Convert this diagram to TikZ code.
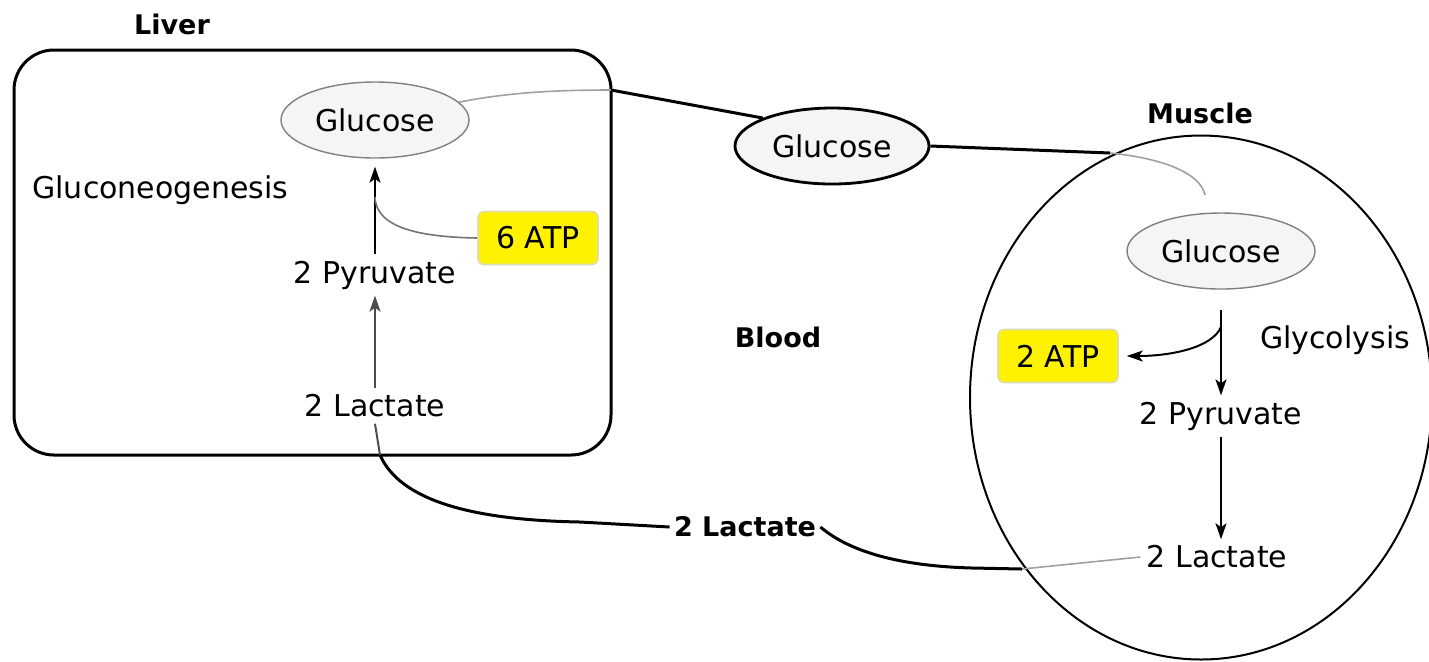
\documentclass[tikz,border=0pt]{standalone}
\usepackage{fontspec}
\setmainfont{DejaVu Sans}
\usetikzlibrary{shapes.geometric,arrows.meta}
\definecolor{glufill}{HTML}{F5F5F5}
\definecolor{glugray}{HTML}{808080}
\definecolor{thingray}{HTML}{A0A0A0}
\definecolor{atpborder}{HTML}{DDDDB0}
\begin{document}
\begin{tikzpicture}[x=0.5pt,y=-0.5pt,
  txt/.style={font=\fontsize{15}{18}\selectfont, inner sep=3pt},
  lbl/.style={font=\bfseries\fontsize{13.5}{16}\selectfont, inner sep=1pt},
  glu/.style={ellipse, draw=glugray, line width=0.7pt, fill=glufill,
    minimum width=94pt, minimum height=38pt, inner sep=0pt,
    font=\fontsize{15}{18}\selectfont},
  atp/.style={draw=atpborder, line width=0.8pt, fill=yellow, rounded corners=3pt,
    minimum width=60pt, minimum height=26.5pt, inner sep=0pt,
    font=\fontsize{15}{18}\selectfont},
  flow/.style={line width=1.5pt, black},
  graylink/.style={line width=0.8pt, thingray},
  arr/.style={line width=1pt, -{Stealth[length=8pt,width=5.5pt,inset=2pt]}}
]
\useasboundingbox (0,0) rectangle (1429,661);

% compartments
\node[draw, line width=1.5pt, rounded corners=20pt, minimum width=298.5pt,
  minimum height=202.5pt, inner sep=0pt] (liver) at (312.5,252.5) {};
\node[ellipse, draw, line width=1pt, minimum width=231pt, minimum height=262pt,
  inner sep=0pt] (muscle) at (1201,397.5) {};

% titles
\node[lbl] (tliver) at (172,24) {Liver};
\node[lbl] (tmuscle) at (1200,113) {Muscle};
\node[lbl] (tblood) at (778,337) {Blood};

% liver contents
\node[glu] (lglu) at (375,120) {Glucose};
\node[txt, anchor=west] (gneo) at (26,190) {Gluconeogenesis};
\node[txt] (lpyr) at (375,275) {2 Pyruvate};
\node[txt] (llac) at (375,406) {2 Lactate};
\node[atp] (atp6) at (538,238) {6 ATP};

% blood
\node[glu, draw=black, line width=1.4pt, minimum width=97pt] (bglu) at (832,146) {Glucose};
\node[lbl, fill=white, inner sep=2pt] (blac) at (745,527) {2 Lactate};

% muscle contents
\node[glu] (mglu) at (1221,251) {Glucose};
\node[txt] (glyc) at (1335,340) {Glycolysis};
\node[atp] (atp2) at (1058,356) {2 ATP};
\node[txt] (mpyr) at (1221,416) {2 Pyruvate};
\node[txt] (mlac) at (1217,557) {2 Lactate};

% junction coordinates
\coordinate (lx) at (611,90);
\coordinate (mx) at (1110,153);
\coordinate (mtop) at (1205,195);
\coordinate (my) at (1022,569);
\coordinate (lvb) at (380,455);
\coordinate (j1) at (375,197);
\coordinate (j2) at (1221,327);

% glucose route liver -> blood -> muscle
\draw[graylink] (lglu.12) .. controls (510,92) and (560,90) .. (lx);
\draw[flow] (lx) -- (bglu.158);
\draw[flow] (bglu.east) -- (mx);
\draw[graylink] (mx) .. controls (1160,158) and (1200,172) .. (mtop);

% lactate route muscle -> blood -> liver
\draw[graylink] (mlac.west) -- (my);
\draw[flow] (my) -- (972,568) .. controls (900,566) and (850,552) .. (blac.east);
\draw[flow] (blac.west) -- (580,522) .. controls (470,520) and (400,500) .. (lvb);
\draw[line width=1pt, black!70] (llac.south) -- (lvb);

% liver reactions
\draw[arr] (lpyr.north) -- ([yshift=-4pt]lglu.south);
\draw[graylink, black!55] (atp6.west) .. controls (420,237) and (376,228) .. (j1);
\draw[arr, black!70] (llac.north) -- (lpyr.south);

% muscle reactions
\draw[arr] ([yshift=-10pt]mglu.south) -- (mpyr.north);
\draw[arr] (j2) .. controls (1212,348) and (1170,356) .. ([xshift=4pt]atp2.east);
\draw[arr] (mpyr.south) -- (mpyr.south |- mlac.north);
\end{tikzpicture}
\end{document}
